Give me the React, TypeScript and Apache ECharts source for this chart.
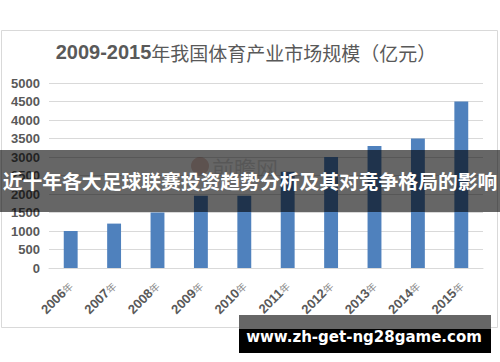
import React, { useEffect, useRef } from "react";
import * as echarts from "echarts";

const years = ["2006年", "2007年", "2008年", "2009年", "2010年", "2011年", "2012年", "2013年", "2014年", "2015年"];
const marketSize = [1000, 1200, 1500, 1950, 1950, 2600, 3000, 3300, 3500, 4500];
const chartTitleNum = "2009-2015";
const chartTitleText = "年我国体育产业市场规模（亿元）";
const bannerText = "近十年各大足球联赛投资趋势分析及其对竞争格局的影响";
const footerText = "www.zh-get-ng28game.com";
const watermarkText = "前瞻网";

export default function App() {
  const ref = useRef<HTMLDivElement>(null);
  useEffect(() => {
    if (!ref.current) return;
    const chart = echarts.init(ref.current, null, { renderer: "svg" });
    chart.setOption({
      animation: false,
      backgroundColor: "#ffffff",
      grid: { left: 49, right: 17, top: 83, bottom: 94, containLabel: false },
      xAxis: {
        type: "category",
        data: years,
        axisLine: { show: true, lineStyle: { color: "#d9d9d9", width: 1 } },
        axisTick: { show: false },
        axisLabel: {
          rotate: 45,
          margin: 16,
          interval: 0,
          formatter: (v: string) => `{d|${v.replace("年", "")}}{y|年}`,
          rich: {
            d: { fontFamily: "Liberation Sans, Arial", fontWeight: "bold", fontSize: 13, color: "#595959" },
            y: { fontFamily: "Noto Sans CJK SC", fontSize: 10, color: "#8c8c8c" },
          },
        },
      },
      yAxis: {
        type: "value",
        min: 0,
        max: 5000,
        interval: 500,
        axisLine: { show: false },
        axisTick: { show: false },
        splitLine: { lineStyle: { color: "#d9d9d9", width: 1 } },
        axisLabel: {
          margin: 9,
          formatter: (v: number) => String(v),
          fontFamily: "Liberation Sans, Arial",
          fontWeight: "bold",
          fontSize: 13,
          color: "#595959",
        },
      },
      series: [
        {
          type: "bar",
          data: marketSize,
          barWidth: "32%",
          itemStyle: { color: "#4f81bd" },
        },
      ],
      graphic: [
        {
          type: "rect",
          z: -10,
          shape: { x: 1.5, y: 30.5, width: 496, height: 297 },
          style: { fill: "none", stroke: "#d9d9d9", lineWidth: 1 },
        },
        {
          type: "text",
          z: 5,
          x: 246,
          y: 52,
          style: {
            text: `{n|${chartTitleNum}}{c|${chartTitleText}}`,
            align: "center",
            verticalAlign: "middle",
            rich: {
              n: { fontFamily: "Liberation Sans, Arial", fontWeight: "bold", fontSize: 20, fill: "#595959" },
              c: { fontFamily: "Noto Sans CJK SC", fontSize: 19, fill: "#595959" },
            },
          },
        },
        {
          type: "circle",
          z: 1,
          shape: { cx: 200, cy: 166, r: 9 },
          style: { fill: "rgba(190,110,90,0.35)" },
        },
        {
          type: "text",
          z: 1,
          x: 212,
          y: 167,
          style: {
            text: watermarkText,
            verticalAlign: "middle",
            fontFamily: "Noto Sans CJK SC",
            fontSize: 22,
            fill: "rgba(150,150,150,0.35)",
          },
        },
        {
          type: "rect",
          z: 100,
          shape: { x: 0, y: 150, width: 500, height: 62 },
          style: { fill: "rgba(0,0,0,0.6)" },
        },
        {
          type: "text",
          z: 101,
          x: 250,
          y: 180,
          style: {
            text: bannerText,
            align: "center",
            verticalAlign: "middle",
            fontFamily: "Noto Sans CJK SC",
            fontWeight: "bold",
            fontSize: 19.8,
            fill: "#ffffff",
          },
        },
        {
          type: "rect",
          z: 100,
          shape: { x: 239, y: 315, width: 252, height: 14 },
          style: { fill: "#666666" },
        },
        {
          type: "rect",
          z: 100,
          shape: { x: 239, y: 329, width: 252, height: 24 },
          style: { fill: "#000000" },
        },
        {
          type: "text",
          z: 101,
          x: 364,
          y: 337,
          style: {
            text: footerText,
            align: "center",
            verticalAlign: "middle",
            fontFamily: "DejaVu Sans",
            fontWeight: "bold",
            fontSize: 15,
            fill: "#ffffff",
          },
        },
      ],
    });
    return () => chart.dispose();
  }, []);
  return <div ref={ref} style={{ position: "fixed", left: 0, top: 0, width: 500, height: 362 }} />;
}
